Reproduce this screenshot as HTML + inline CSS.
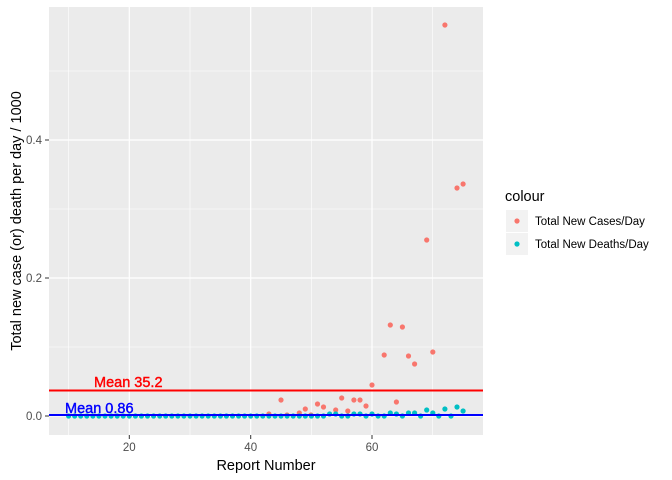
<!DOCTYPE html>
<html><head><style>body{margin:0;background:#fff}svg{display:block;font-family:"Liberation Sans",Arial,sans-serif}</style></head>
<body>
<svg width="672" height="480" viewBox="0 0 672 480">
<rect x="49" y="7" width="434" height="428" fill="#ebebeb"/>
<g stroke="#fff" stroke-width="0.6">
<line x1="49" x2="483" y1="347" y2="347"/><line x1="49" x2="483" y1="209" y2="209"/><line x1="49" x2="483" y1="71" y2="71"/>
<line y1="7" y2="435" x1="68.6" x2="68.6"/><line y1="7" y2="435" x1="190" x2="190"/><line y1="7" y2="435" x1="311.3" x2="311.3"/><line y1="7" y2="435" x1="432.7" x2="432.7"/>
</g>
<g stroke="#fff" stroke-width="1.2">
<line x1="49" x2="483" y1="416" y2="416"/><line x1="49" x2="483" y1="278" y2="278"/><line x1="49" x2="483" y1="140" y2="140"/>
<line y1="7" y2="435" x1="129.3" x2="129.3"/><line y1="7" y2="435" x1="250.7" x2="250.7"/><line y1="7" y2="435" x1="372" x2="372"/>
</g>
<g fill="#f8766d">
<circle cx="268.9" cy="414" r="2.6"/><circle cx="281" cy="400" r="2.6"/><circle cx="299.3" cy="413" r="2.6"/><circle cx="305.3" cy="409" r="2.6"/><circle cx="317.5" cy="404" r="2.6"/><circle cx="323.5" cy="407" r="2.6"/><circle cx="335.7" cy="410" r="2.6"/><circle cx="341.7" cy="398" r="2.6"/><circle cx="347.8" cy="411" r="2.6"/><circle cx="353.9" cy="400" r="2.6"/><circle cx="360" cy="400" r="2.6"/><circle cx="366" cy="406" r="2.6"/><circle cx="372" cy="385" r="2.6"/><circle cx="384.2" cy="355" r="2.6"/><circle cx="390.3" cy="325" r="2.6"/><circle cx="396.4" cy="402" r="2.6"/><circle cx="402.4" cy="327" r="2.6"/><circle cx="408.5" cy="356" r="2.6"/><circle cx="414.6" cy="364" r="2.6"/><circle cx="426.7" cy="240" r="2.6"/><circle cx="432.8" cy="352" r="2.6"/><circle cx="444.9" cy="25" r="2.6"/><circle cx="457" cy="188" r="2.6"/><circle cx="463.1" cy="184" r="2.6"/>
<circle cx="287" cy="415" r="2.6"/><circle cx="311" cy="415" r="2.6"/>
</g>
<g fill="#00bfc4">
<circle cx="68.6" cy="416" r="2.6"/><circle cx="74.7" cy="416" r="2.6"/><circle cx="80.7" cy="416" r="2.6"/><circle cx="86.8" cy="416" r="2.6"/><circle cx="92.9" cy="416" r="2.6"/><circle cx="98.9" cy="416" r="2.6"/><circle cx="105" cy="416" r="2.6"/><circle cx="111.1" cy="416" r="2.6"/><circle cx="117.2" cy="416" r="2.6"/><circle cx="123.2" cy="416" r="2.6"/><circle cx="129.3" cy="416" r="2.6"/><circle cx="135.4" cy="416" r="2.6"/><circle cx="141.4" cy="416" r="2.6"/><circle cx="147.5" cy="416" r="2.6"/><circle cx="153.6" cy="416" r="2.6"/><circle cx="159.7" cy="416" r="2.6"/><circle cx="165.7" cy="416" r="2.6"/><circle cx="171.8" cy="416" r="2.6"/><circle cx="177.9" cy="416" r="2.6"/><circle cx="183.9" cy="416" r="2.6"/><circle cx="190" cy="416" r="2.6"/><circle cx="196.1" cy="416" r="2.6"/><circle cx="202.1" cy="416" r="2.6"/><circle cx="208.2" cy="416" r="2.6"/><circle cx="214.3" cy="416" r="2.6"/><circle cx="220.4" cy="416" r="2.6"/><circle cx="226.4" cy="416" r="2.6"/><circle cx="232.5" cy="416" r="2.6"/><circle cx="238.6" cy="416" r="2.6"/><circle cx="244.6" cy="416" r="2.6"/><circle cx="250.7" cy="416" r="2.6"/><circle cx="256.8" cy="416" r="2.6"/><circle cx="262.8" cy="416" r="2.6"/><circle cx="268.9" cy="416" r="2.6"/><circle cx="275" cy="416" r="2.6"/><circle cx="281" cy="416" r="2.6"/><circle cx="287.1" cy="416" r="2.6"/><circle cx="293.2" cy="416" r="2.6"/><circle cx="299.3" cy="416" r="2.6"/><circle cx="305.3" cy="416" r="2.6"/><circle cx="311.4" cy="416" r="2.6"/><circle cx="317.5" cy="416" r="2.6"/><circle cx="323.5" cy="416" r="2.6"/><circle cx="329.6" cy="414" r="2.6"/><circle cx="335.7" cy="414" r="2.6"/><circle cx="341.7" cy="416" r="2.6"/><circle cx="347.8" cy="416" r="2.6"/><circle cx="353.9" cy="414" r="2.6"/><circle cx="360" cy="414" r="2.6"/><circle cx="366" cy="416" r="2.6"/><circle cx="372" cy="414" r="2.6"/><circle cx="378.1" cy="416" r="2.6"/><circle cx="384.2" cy="416" r="2.6"/><circle cx="390.3" cy="413" r="2.6"/><circle cx="396.4" cy="414" r="2.6"/><circle cx="402.4" cy="416" r="2.6"/><circle cx="408.5" cy="413" r="2.6"/><circle cx="414.6" cy="413" r="2.6"/><circle cx="420.6" cy="416" r="2.6"/><circle cx="426.7" cy="410" r="2.6"/><circle cx="432.8" cy="413" r="2.6"/><circle cx="438.8" cy="416" r="2.6"/><circle cx="444.9" cy="409" r="2.6"/><circle cx="451" cy="416" r="2.6"/><circle cx="457" cy="407" r="2.6"/><circle cx="463.1" cy="411" r="2.6"/>
</g>
<line x1="49" x2="483" y1="390.5" y2="390.5" stroke="#ff0000" stroke-width="2"/>
<line x1="49" x2="483" y1="415" y2="415" stroke="#0000ff" stroke-width="2"/>
<text x="94" y="387" font-size="14.5" fill="#ff0000" stroke="#ff0000" stroke-width="0.4">Mean 35.2</text>
<text x="65" y="413" font-size="14.5" fill="#0000ff" stroke="#0000ff" stroke-width="0.4">Mean 0.86</text>
<g font-size="11.5" fill="#4d4d4d" text-anchor="end">
<text x="42" y="420">0.0</text><text x="42" y="282">0.2</text><text x="42" y="144">0.4</text>
</g>
<g stroke="#333" stroke-width="1">
<line x1="45" x2="49" y1="416" y2="416"/><line x1="45" x2="49" y1="278" y2="278"/><line x1="45" x2="49" y1="140" y2="140"/>
<line y1="435" y2="439" x1="129.3" x2="129.3"/><line y1="435" y2="439" x1="250.7" x2="250.7"/><line y1="435" y2="439" x1="372" x2="372"/>
</g>
<g font-size="11.5" fill="#4d4d4d" text-anchor="middle">
<text x="129.3" y="451">20</text><text x="250.7" y="451">40</text><text x="372" y="451">60</text>
</g>
<text x="266" y="470" font-size="14.5" text-anchor="middle" fill="#000">Report Number</text>
<text transform="translate(21,221) rotate(-90)" font-size="14.5" text-anchor="middle" fill="#000">Total new case (or) death per day / 1000</text>
<text x="505" y="201" font-size="14.5" fill="#000">colour</text>
<rect x="506" y="210" width="22" height="22" fill="#f2f2f2"/><rect x="506" y="233" width="22" height="22" fill="#f2f2f2"/>
<circle cx="517" cy="221" r="2.6" fill="#f8766d"/><circle cx="517" cy="244" r="2.6" fill="#00bfc4"/>
<text x="535" y="225" font-size="11.5" fill="#000">Total New Cases/Day</text>
<text x="535" y="248" font-size="11.5" fill="#000">Total New Deaths/Day</text>
</svg>
</body></html>
